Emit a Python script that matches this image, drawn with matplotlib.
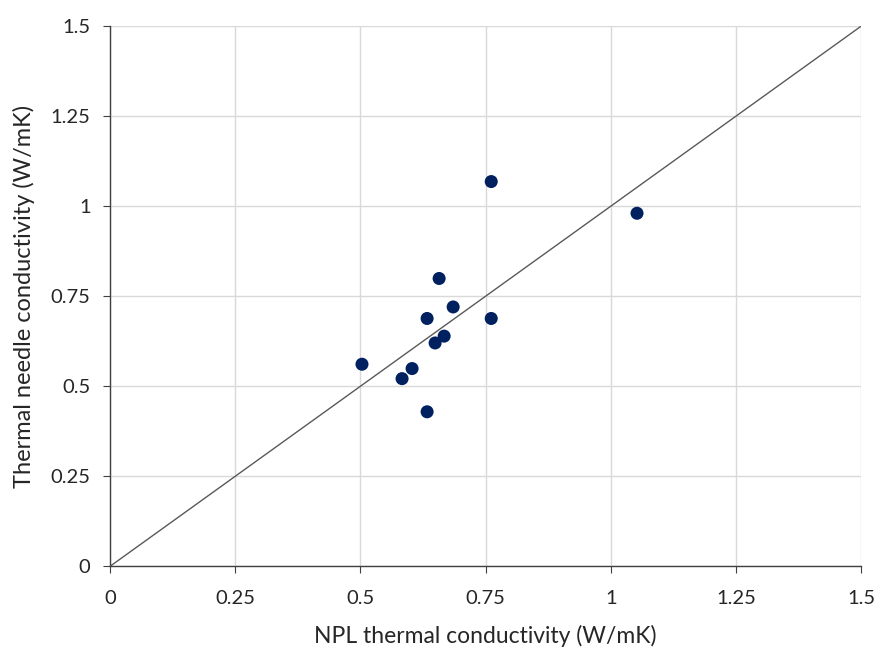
import matplotlib
matplotlib.use("Agg")
import matplotlib.pyplot as plt

npl = [0.503, 0.583, 0.603, 0.633, 0.633, 0.649, 0.657, 0.667, 0.685, 0.761, 0.761, 1.052]
needle = [0.561, 0.521, 0.549, 0.688, 0.429, 0.620, 0.799, 0.639, 0.720, 1.068, 0.688, 0.980]
ticks = [0, 0.25, 0.5, 0.75, 1, 1.25, 1.5]
tick_labels = ["0", "0.25", "0.5", "0.75", "1", "1.25", "1.5"]
line_x = [0, 1.5]
line_y = [0, 1.5]

plt.rcParams['font.family'] = ['Lato', 'DejaVu Sans']
fig = plt.figure(figsize=(8.82, 6.48), dpi=100)
ax = fig.add_axes([0.1247, 0.126, 0.852, 0.834])

ax.plot(line_x, line_y, color='#595959', lw=1.0, zorder=2)
ax.scatter(npl, needle, s=88, color='#002060', zorder=3, edgecolors='none')

ax.set_xlim(0, 1.5)
ax.set_ylim(0, 1.5)
ax.set_xticks(ticks)
ax.set_xticklabels(tick_labels)
ax.set_yticks(ticks)
ax.set_yticklabels(tick_labels)
ax.grid(True, color='#d9d9d9', lw=1.0, zorder=0)
ax.set_axisbelow(True)
for s in ['top', 'right']:
    ax.spines[s].set_visible(False)
for s in ['left', 'bottom']:
    ax.spines[s].set_color('#404040')
    ax.spines[s].set_linewidth(1.0)
ax.tick_params(axis='both', direction='out', length=5, color='#404040',
               labelsize=14.5, labelcolor='#262626')
ax.tick_params(axis='x', pad=12)
ax.tick_params(axis='y', pad=9)
ax.set_xlabel("NPL thermal conductivity (W/mK)", fontsize=16.5, color='#262626', labelpad=13)
ax.set_ylabel("Thermal needle conductivity (W/mK)", fontsize=17, color='#262626', labelpad=11)

fig.savefig("out.png", dpi=100)
